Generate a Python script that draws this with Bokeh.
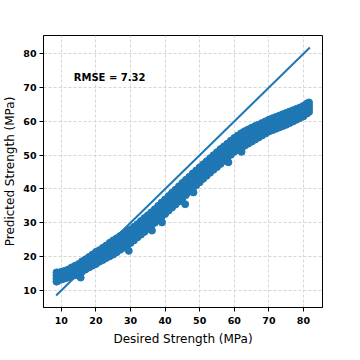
from bokeh.plotting import figure
from bokeh.models import Range1d, FixedTicker
from bokeh.core.properties import value
from bokeh.embed import file_html
from bokeh.resources import INLINE

# Desired strength grid of the scatter band (MPa)
desired = [8.6, 9, 10, 11, 12, 13, 14, 15, 16, 17, 18, 19, 20, 21, 22, 23, 24, 25,
           26, 27, 28, 29, 30, 31, 32, 33, 34, 35, 36, 37, 38, 39, 40, 41, 42, 43,
           44, 45, 46, 47, 48, 49, 50, 51, 52, 53, 54, 55, 56, 57, 58, 59, 60, 61,
           62, 63, 64, 65, 66, 67, 68, 69, 70, 71, 72, 73, 74, 75, 76, 77, 78, 79,
           80, 81, 81.6]
pred_low = [12.6, 12.8, 13.2, 13.5, 13.8, 14.2, 14.5, 15.0, 15.6, 16.2, 16.8, 17.3, 17.8,
            18.5, 19.0, 19.6, 20.1, 20.6, 21.3, 22.0, 22.6, 23.3, 24.0, 24.8, 25.7, 26.5,
            27.3, 28.2, 29.0, 30.0, 30.8, 31.8, 32.6, 33.6, 34.5, 35.4, 36.3, 37.2, 38.2,
            39.2, 40.2, 41.1, 42.0, 43.0, 43.9, 44.8, 45.7, 46.5, 47.4, 48.3, 49.2, 50.1,
            51.0, 51.6, 52.2, 52.8, 53.4, 54.0, 54.6, 55.2, 55.8, 56.4, 57.0, 57.4, 57.8,
            58.2, 58.6, 59.0, 59.5, 60.0, 60.5, 61.0, 61.5, 62.3, 62.8]
pred_mid1 = [13.5, 13.7, 14.0, 14.3, 14.6, 15.0, 15.4, 16.0, 16.6, 17.2, 17.8, 18.4, 19.0,
             19.6, 20.2, 20.8, 21.4, 22.0, 22.7, 23.5, 24.1, 24.9, 25.5, 26.4, 27.3, 28.1,
             28.9, 29.8, 30.7, 31.7, 32.5, 33.5, 34.4, 35.4, 36.3, 37.3, 38.2, 39.1, 40.1,
             41.1, 42.0, 42.9, 43.8, 44.7, 45.6, 46.5, 47.3, 48.1, 49.0, 49.8, 50.7, 51.5,
             52.4, 53.0, 53.6, 54.2, 54.8, 55.4, 55.9, 56.5, 57.0, 57.6, 58.2, 58.6, 59.0,
             59.4, 59.8, 60.2, 60.6, 61.1, 61.6, 62.0, 62.5, 63.3, 63.7]
pred_mid2 = [14.4, 14.5, 14.8, 15.1, 15.4, 15.9, 16.4, 16.9, 17.6, 18.2, 18.9, 19.5, 20.2,
             20.8, 21.4, 22.1, 22.8, 23.5, 24.2, 24.9, 25.6, 26.3, 26.9, 27.6, 28.4, 29.3,
             30.2, 31.1, 31.9, 32.9, 33.9, 34.9, 35.8, 36.8, 37.8, 38.7, 39.7, 40.7, 41.6,
             42.5, 43.5, 44.4, 45.3, 46.2, 47.0, 47.9, 48.8, 49.6, 50.5, 51.3, 52.0, 52.9,
             53.7, 54.4, 55.1, 55.7, 56.2, 56.7, 57.3, 57.7, 58.3, 58.8, 59.3, 59.7, 60.1,
             60.5, 60.9, 61.3, 61.8, 62.2, 62.6, 63.1, 63.6, 64.3, 64.6]
pred_high = [15.3, 15.3, 15.5, 15.8, 16.2, 16.8, 17.3, 17.8, 18.6, 19.2, 19.9, 20.6, 21.4,
             21.9, 22.6, 23.3, 24.1, 24.8, 25.4, 26.1, 26.8, 27.5, 28.0, 28.8, 29.6, 30.5,
             31.4, 32.2, 33.1, 34.0, 35.0, 36.0, 36.9, 37.9, 38.9, 39.8, 40.8, 41.8, 42.7,
             43.6, 44.6, 45.5, 46.4, 47.3, 48.2, 49.1, 50.0, 50.9, 51.8, 52.6, 53.4, 54.3,
             55.1, 55.8, 56.5, 57.1, 57.6, 58.1, 58.6, 59.0, 59.5, 60.0, 60.5, 60.9, 61.3,
             61.7, 62.1, 62.5, 62.9, 63.3, 63.7, 64.1, 64.6, 65.3, 65.6]
# Scattered low predictions below the band
outlier_desired = [15.6, 29.5, 36.2, 36.7, 39.1, 45.8, 48.2, 58.3, 62.1]
outlier_pred = [13.8, 21.7, 27.7, 30.1, 30.1, 35.5, 39.0, 47.9, 51.0]
# Ideal (y = x) reference line
ideal = [8.5, 81.85]
rmse = 7.32
ticks = [10, 20, 30, 40, 50, 60, 70, 80]

BLUE = "#1f77b4"
FONT = "DejaVu Sans"

p = figure(frame_width=279, frame_height=272, output_backend="svg", toolbar_location=None,
           x_range=Range1d(4.85, 85.5), y_range=Range1d(4.95, 85.4),
           min_border_left=37, min_border_right=12, min_border_top=35, min_border_bottom=10)

xs = desired * 4 + outlier_desired
ys = pred_low + pred_mid1 + pred_mid2 + pred_high + outlier_pred
p.scatter(xs, ys, size=7, fill_color=BLUE, line_color=BLUE)
p.line(ideal, ideal, line_color=BLUE, line_width=2)

p.text(x=[13.6], y=[73], text=[f"RMSE = {rmse}"], text_baseline="middle", text_align="left",
       text_font=value(FONT), text_font_style="bold", text_font_size="10px", text_color="black")

p.outline_line_color = "black"
p.outline_line_width = 1
p.background_fill_color = "white"
p.border_fill_color = "white"

for ax in (p.xaxis, p.yaxis):
    ax.ticker = FixedTicker(ticks=ticks)
    ax.axis_line_color = "black"
    ax.major_tick_line_color = "black"
    ax.major_tick_out = 4
    ax.major_tick_in = 0
    ax.minor_tick_line_color = None
    ax.major_label_text_font = FONT
    ax.major_label_text_font_style = "bold"
    ax.major_label_text_font_size = "9.5px"
    ax.major_label_text_color = "black"
    ax.axis_label_text_font = FONT
    ax.axis_label_text_font_style = "normal"
    ax.axis_label_text_font_size = "12px"
    ax.axis_label_text_color = "black"

p.xaxis.major_label_standoff = 5
p.xaxis.axis_label_standoff = 5
p.yaxis.major_label_standoff = 3
p.yaxis.axis_label_standoff = 3

p.xaxis.axis_label = "Desired Strength (MPa)"
p.yaxis.axis_label = "Predicted Strength (MPa)"

p.grid.grid_line_color = "#d6d6d6"
p.grid.grid_line_dash = "3 2"
p.grid.grid_line_width = 1
p.grid.ticker = FixedTicker(ticks=ticks)

open("out.html", "w").write(file_html(p, INLINE))
